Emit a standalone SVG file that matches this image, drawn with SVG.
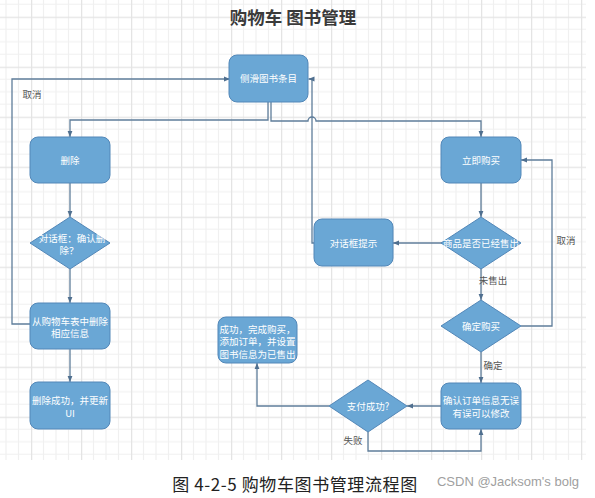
<svg xmlns="http://www.w3.org/2000/svg" width="595" height="498" viewBox="0 0 595 498">
<defs>
<style>
.node{fill:#6aa7d5;stroke:#5287b8;stroke-width:1}
.nt{font-family:"Noto Sans CJK SC","Noto Sans",sans-serif;font-size:9.5px;fill:#ffffff;text-anchor:middle}
.conn{fill:none;stroke:#5f7d9a;stroke-width:1.3}
.lbl{font-family:"Noto Sans CJK SC","Noto Sans",sans-serif;font-size:9.5px;fill:#555555;text-anchor:middle}
</style>
<marker id="arr" viewBox="0 0 10 10" refX="10" refY="5" markerWidth="6" markerHeight="6" markerUnits="userSpaceOnUse" orient="auto">
<path d="M0,1 L10,5 L0,9 z" fill="#4f6f8f"/>
</marker>
<pattern id="grid" x="31" y="16.7" width="50" height="50" patternUnits="userSpaceOnUse">
<path d="M12.5,0 V50 M25,0 V50 M37.5,0 V50 M0,12.5 H50 M0,25 H50 M0,37.5 H50" stroke="#f0f0f0" stroke-width="1.2" fill="none"/>
<path d="M0.5,0 V50 M0,0.5 H50" stroke="#e4e4e4" stroke-width="1.5" fill="none"/>
</pattern>
</defs>
<rect x="0" y="0" width="595" height="498" fill="#ffffff"/>
<rect x="0" y="0" width="586" height="460" fill="url(#grid)"/>

<text x="293" y="24" font-family="'Noto Sans CJK SC','Noto Sans',sans-serif" font-size="17.5" font-weight="bold" fill="#3a3a3a" text-anchor="middle">购物车 图书管理</text>

<g id="connectors">
<path class="conn" d="M268,102 V120 H70 V137" marker-end="url(#arr)"/>
<path class="conn" d="M271,102 V121 H308 a4,4 0 0 1 8,0 H481 V137" marker-end="url(#arr)"/>
<path class="conn" d="M70,183 V217" marker-end="url(#arr)"/>
<path class="conn" d="M70,269 V303" marker-end="url(#arr)"/>
<path class="conn" d="M70,349 V382" marker-end="url(#arr)"/>
<path class="conn" d="M30,324 H12 V79 H230" marker-end="url(#arr)"/>
<path class="conn" d="M481,183 V217" marker-end="url(#arr)"/>
<path class="conn" d="M442,243 H393" marker-end="url(#arr)"/>
<path class="conn" d="M314,243 H312 V79 H308.5" marker-end="url(#arr)"/>
<path class="conn" d="M481,269 V300" marker-end="url(#arr)"/>
<path class="conn" d="M521,326 H552 V160 H521" marker-end="url(#arr)"/>
<path class="conn" d="M481,352 V383" marker-end="url(#arr)"/>
<path class="conn" d="M441,406 H407" marker-end="url(#arr)"/>
<path class="conn" d="M329,406 H257 V363" marker-end="url(#arr)"/>
<path class="conn" d="M368,432 V451 H481 V429" marker-end="url(#arr)"/>
<text class="lbl" x="32" y="98">取消</text>
<text class="lbl" x="566" y="244">取消</text>
<text class="lbl" x="493" y="284">未售出</text>
<text class="lbl" x="493" y="369">确定</text>
<text class="lbl" x="353" y="444">失败</text>
</g>

<g id="n-slide">
<rect class="node" x="229" y="55" width="79" height="47" rx="8"/>
<text class="nt" x="268.5" y="82">侧滑图书条目</text>
</g>
<g id="n-delete">
<rect class="node" x="30" y="137" width="80" height="46" rx="8"/>
<text class="nt" x="70" y="163.5">删除</text>
</g>
<g id="n-confirm-delete">
<polygon class="node" points="70,217 110,243 70,269 30,243"/>
<text class="nt" x="72" y="241.5">对话框：确认删</text>
<text class="nt" x="69" y="254">除？</text>
</g>
<g id="n-remove">
<rect class="node" x="30" y="303" width="80" height="46" rx="8"/>
<text class="nt" x="70" y="324.5">从购物车表中删除</text>
<text class="nt" x="70" y="337">相应信息</text>
</g>
<g id="n-delete-ok">
<rect class="node" x="30" y="382" width="80" height="47" rx="8"/>
<text class="nt" x="70" y="403.5">删除成功，并更新</text>
<text class="nt" x="70" y="416.5">UI</text>
</g>
<g id="n-success">
<rect class="node" x="218" y="317" width="79" height="46" rx="8"/>
<text class="nt" x="257.5" y="332.5">成功，完成购买，</text>
<text class="nt" x="257.5" y="345">添加订单，并设置</text>
<text class="nt" x="257.5" y="357.5">图书信息为已售出</text>
</g>
<g id="n-buy">
<rect class="node" x="441" y="137" width="80" height="46" rx="8"/>
<text class="nt" x="481" y="163.5">立即购买</text>
</g>
<g id="n-sold">
<polygon class="node" points="481,217 521,243 481,269 441,243"/>
<text class="nt" x="481" y="246.5">商品是否已经售出</text>
</g>
<g id="n-dialog">
<rect class="node" x="314" y="219" width="79" height="47" rx="8"/>
<text class="nt" x="353.5" y="246.5">对话框提示</text>
</g>
<g id="n-confirm-buy">
<polygon class="node" points="481,300 521,326 481,352 441,326"/>
<text class="nt" x="481" y="330">确定购买</text>
</g>
<g id="n-order">
<rect class="node" x="441" y="383" width="80" height="46" rx="8"/>
<text class="nt" x="481" y="403.5">确认订单信息无误</text>
<text class="nt" x="481" y="416.5">有误可以修改</text>
</g>
<g id="n-pay">
<polygon class="node" points="368,380 407,406 368,432 329,406"/>
<text class="nt" x="368" y="409.5">支付成功?</text>
</g>

<text x="295" y="491" font-family="'Noto Sans CJK SC','Noto Sans',sans-serif" font-size="17" letter-spacing="0.6" fill="#222222" text-anchor="middle">图 4-2-5 购物车图书管理流程图</text>
<text x="508" y="486" font-family="'Liberation Sans','Noto Sans',sans-serif" font-size="13" fill="#a0a0a0" text-anchor="middle">CSDN @Jacksom's bolg</text>
</svg>
